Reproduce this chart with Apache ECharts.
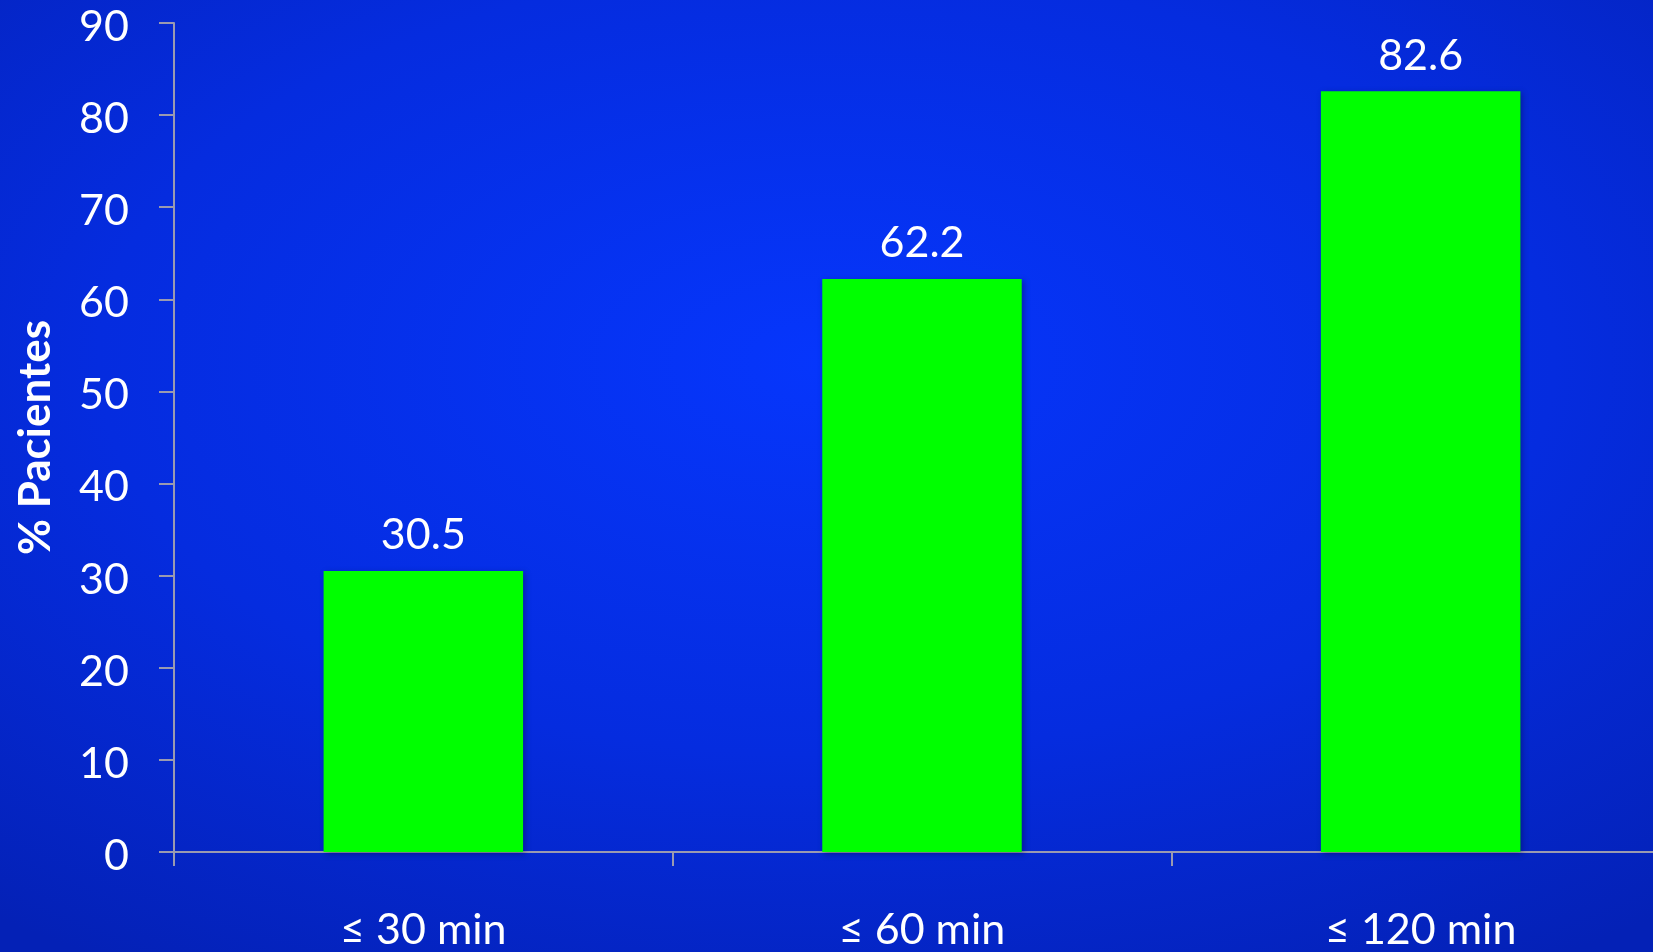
<!DOCTYPE html>
<html>
<head>
<meta charset="utf-8">
<script src="https://cdn.jsdelivr.net/npm/echarts@6/dist/echarts.min.js"></script>
<style>
html,body{margin:0;padding:0;width:1653px;height:952px;overflow:hidden;}
body{background:radial-gradient(ellipse 80% 75% at 50% 38%, #0636fc 0%, #052cdf 55%, #0421b6 100%);}
#chart{width:1670px;height:952px;}
</style>
</head>
<body>
<div id="chart"></div>
<script>
const categories = ['≤ 30 min', '≤ 60 min', '≤ 120 min'];
const values = [30.5, 62.2, 82.6];
const yTicks = { min: 0, max: 90, interval: 10 };
const yName = '% Pacientes';

const chart = echarts.init(document.getElementById('chart'));
const font = 'Lato, "Open Sans", sans-serif';
chart.setOption({
  backgroundColor: 'transparent',
  animation: false,
  grid: { left: 174, right: 0, top: 23, bottom: 100, containLabel: false },
  xAxis: {
    type: 'category',
    data: categories,
    axisLine: { lineStyle: { color: '#9a9ab0', width: 2 } },
    axisTick: { show: true, length: 14, lineStyle: { color: '#9a9ab0', width: 2 } },
    axisLabel: { color: '#ffffff', fontSize: 43, fontFamily: font, margin: 57 },
    splitLine: { show: false }
  },
  yAxis: {
    type: 'value',
    min: yTicks.min, max: yTicks.max, interval: yTicks.interval,
    name: yName,
    nameLocation: 'middle',
    nameRotate: 90,
    nameGap: 116,
    nameTextStyle: { color: '#ffffff', fontSize: 44, fontWeight: 'bold', fontFamily: font },
    axisLine: { show: true, lineStyle: { color: '#9a9ab0', width: 2 } },
    axisTick: { show: true, length: 15, lineStyle: { color: '#9a9ab0', width: 2 } },
    axisLabel: { color: '#ffffff', fontSize: 43, fontFamily: font, margin: 45, verticalAlign: 'top', lineHeight: 8 },
    splitLine: { show: false }
  },
  series: [{
    type: 'bar',
    data: values,
    barWidth: '40%',
    itemStyle: { color: '#00ff00', shadowBlur: 6, shadowColor: 'rgba(0,0,40,0.35)', shadowOffsetX: 2, shadowOffsetY: 2 },
    label: { show: true, position: 'top', distance: 14, color: '#ffffff', fontSize: 43, fontFamily: font }
  }]
});
</script>
</body>
</html>
